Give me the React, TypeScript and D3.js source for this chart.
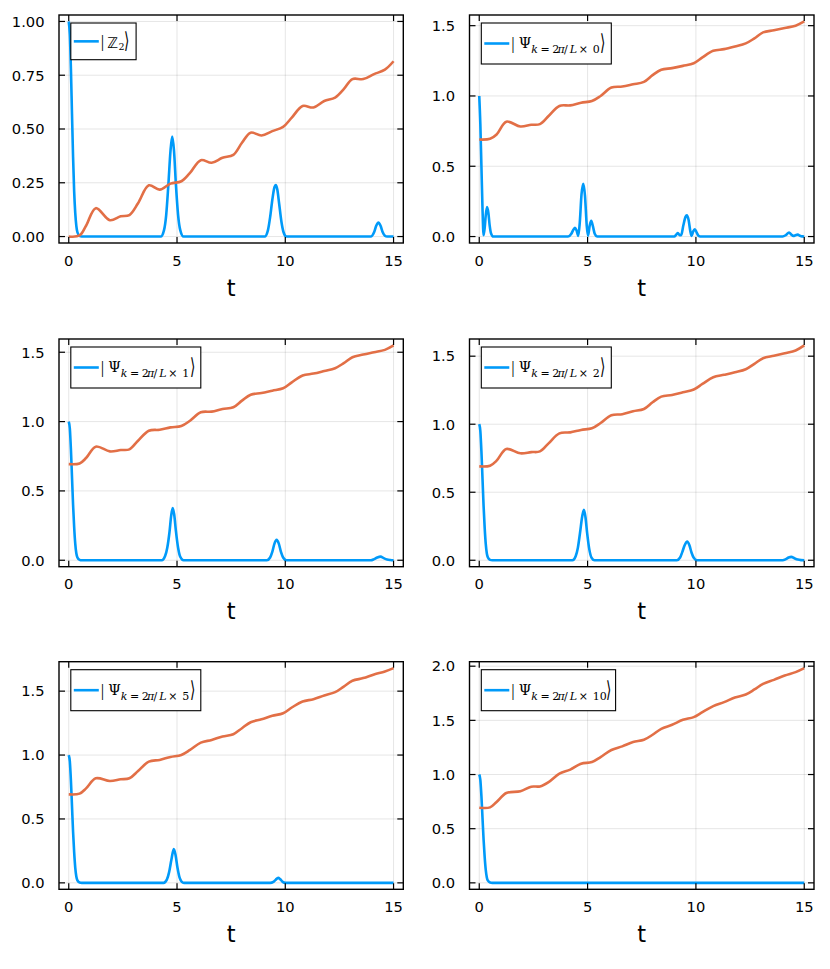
import { scaleLinear, line, curveMonotoneX, curveCatmullRom, format } from "d3";

// time grid for the entropy-like (orange) curves
const tGrid = [0, 0.5, 0.8, 1.25, 1.9, 2.4, 2.8, 3.2, 3.7, 4.2, 4.7, 5.2, 5.6, 6.1, 6.6, 7.1, 7.6, 8.0, 8.4, 8.9, 9.4, 9.9, 10.3, 10.8, 11.3, 11.8, 12.3, 12.7, 13.1, 13.6, 14.1, 14.6, 15];

const z2Orange = [0, 0.005, 0.05, 0.132, 0.076, 0.094, 0.1, 0.155, 0.238, 0.218, 0.246, 0.257, 0.296, 0.355, 0.343, 0.366, 0.38, 0.436, 0.483, 0.47, 0.49, 0.51, 0.553, 0.607, 0.6, 0.63, 0.646, 0.685, 0.732, 0.732, 0.755, 0.776, 0.815];
const k0Orange = [0.69, 0.695, 0.726, 0.817, 0.783, 0.795, 0.8, 0.857, 0.929, 0.933, 0.952, 0.964, 1.0, 1.06, 1.067, 1.083, 1.1, 1.148, 1.186, 1.198, 1.214, 1.233, 1.274, 1.321, 1.333, 1.352, 1.374, 1.41, 1.452, 1.467, 1.483, 1.5, 1.53];
const k1Orange = [0.693, 0.698, 0.737, 0.819, 0.785, 0.795, 0.8, 0.862, 0.934, 0.941, 0.958, 0.968, 1.006, 1.067, 1.072, 1.091, 1.103, 1.151, 1.194, 1.206, 1.223, 1.24, 1.283, 1.332, 1.346, 1.365, 1.385, 1.421, 1.464, 1.483, 1.5, 1.517, 1.549];
const k2Orange = [0.69, 0.695, 0.732, 0.818, 0.786, 0.795, 0.8, 0.859, 0.933, 0.94, 0.958, 0.97, 1.009, 1.066, 1.073, 1.095, 1.112, 1.161, 1.203, 1.215, 1.235, 1.255, 1.296, 1.345, 1.363, 1.382, 1.404, 1.444, 1.485, 1.503, 1.522, 1.542, 1.579];
const k5Orange = [0.692, 0.698, 0.739, 0.818, 0.797, 0.81, 0.818, 0.875, 0.949, 0.962, 0.985, 1.001, 1.04, 1.097, 1.118, 1.145, 1.163, 1.21, 1.257, 1.28, 1.307, 1.327, 1.372, 1.419, 1.437, 1.466, 1.492, 1.536, 1.581, 1.602, 1.631, 1.654, 1.68];
const k10Orange = [0.694, 0.697, 0.747, 0.829, 0.845, 0.888, 0.89, 0.93, 1.008, 1.045, 1.1, 1.115, 1.161, 1.226, 1.26, 1.3, 1.321, 1.367, 1.422, 1.459, 1.505, 1.53, 1.576, 1.631, 1.668, 1.711, 1.739, 1.785, 1.837, 1.874, 1.914, 1.945, 1.982];

// fidelity (blue) curves as [t, value]
const z2Blue: [number, number][] = [
    [0, 1], [0.05, 0.94], [0.1, 0.78], [0.15, 0.57], [0.2, 0.37], [0.25, 0.21], [0.3, 0.11], [0.35, 0.05], [0.4, 0.02], [0.5, 0.003], [0.6, 0],
    [4.25, 0], [4.4, 0.03], [4.5, 0.1], [4.6, 0.24], [4.7, 0.4], [4.78, 0.465], [4.86, 0.4], [4.95, 0.24], [5.05, 0.1], [5.15, 0.03], [5.3, 0],
    [9.05, 0], [9.2, 0.03], [9.3, 0.09], [9.4, 0.17], [9.5, 0.23], [9.56, 0.24], [9.63, 0.22], [9.72, 0.15], [9.82, 0.07], [9.92, 0.02], [10.05, 0],
    [13.95, 0], [14.1, 0.02], [14.2, 0.05], [14.3, 0.065], [14.4, 0.05], [14.5, 0.02], [14.6, 0.004], [14.7, 0], [15, 0],
];
const k0Blue: [number, number][] = [
    [0, 1], [0.05, 0.8], [0.1, 0.5], [0.15, 0.2], [0.2, 0.01], [0.25, 0.06], [0.3, 0.15], [0.36, 0.21], [0.42, 0.17], [0.48, 0.08], [0.55, 0.02], [0.65, 0],
    [4.1, 0], [4.25, 0.02], [4.35, 0.05], [4.42, 0.062], [4.5, 0.04], [4.57, 0.005], [4.64, 0.1], [4.72, 0.3], [4.8, 0.375], [4.88, 0.29], [4.96, 0.08], [5.02, 0.005], [5.1, 0.08], [5.17, 0.112], [5.25, 0.07], [5.33, 0.02], [5.45, 0],
    [9.0, 0], [9.1, 0.015], [9.17, 0.024], [9.25, 0.01], [9.32, 0.01], [9.42, 0.08], [9.52, 0.14], [9.58, 0.152], [9.66, 0.12], [9.74, 0.04], [9.8, 0.005], [9.87, 0.035], [9.95, 0.052], [10.03, 0.03], [10.12, 0.005], [10.2, 0],
    [14.0, 0], [14.15, 0.01], [14.3, 0.029], [14.4, 0.015], [14.5, 0.004], [14.6, 0.01], [14.7, 0.014], [14.8, 0.006], [14.9, 0.001], [15, 0],
];
const k1Blue: [number, number][] = [
    [0, 1], [0.05, 0.95], [0.1, 0.8], [0.15, 0.6], [0.2, 0.4], [0.25, 0.24], [0.3, 0.12], [0.35, 0.05], [0.4, 0.02], [0.5, 0.003], [0.6, 0],
    [4.3, 0], [4.45, 0.03], [4.55, 0.09], [4.65, 0.2], [4.73, 0.32], [4.8, 0.376], [4.87, 0.33], [4.95, 0.21], [5.05, 0.09], [5.15, 0.025], [5.3, 0],
    [9.15, 0], [9.3, 0.02], [9.4, 0.06], [9.5, 0.12], [9.6, 0.147], [9.7, 0.12], [9.8, 0.06], [9.9, 0.02], [10.05, 0],
    [13.95, 0], [14.1, 0.008], [14.25, 0.02], [14.4, 0.026], [14.55, 0.015], [14.7, 0.006], [14.85, 0.002], [15, 0],
];
const k2Blue: [number, number][] = [
    [0, 1], [0.05, 0.95], [0.1, 0.8], [0.15, 0.6], [0.2, 0.4], [0.25, 0.24], [0.3, 0.12], [0.35, 0.05], [0.4, 0.02], [0.5, 0.003], [0.6, 0],
    [4.3, 0], [4.45, 0.03], [4.55, 0.09], [4.65, 0.2], [4.75, 0.32], [4.83, 0.371], [4.9, 0.32], [4.98, 0.2], [5.08, 0.08], [5.18, 0.02], [5.32, 0],
    [9.12, 0], [9.27, 0.02], [9.37, 0.06], [9.48, 0.11], [9.6, 0.137], [9.7, 0.11], [9.8, 0.055], [9.9, 0.018], [10.05, 0],
    [14.0, 0], [14.15, 0.008], [14.28, 0.02], [14.4, 0.025], [14.55, 0.014], [14.7, 0.005], [14.85, 0.001], [15, 0],
];
const k5Blue: [number, number][] = [
    [0, 1], [0.05, 0.95], [0.1, 0.8], [0.15, 0.6], [0.2, 0.4], [0.25, 0.24], [0.3, 0.12], [0.35, 0.05], [0.4, 0.02], [0.5, 0.003], [0.6, 0],
    [4.38, 0], [4.53, 0.025], [4.63, 0.08], [4.74, 0.18], [4.85, 0.264], [4.93, 0.22], [5.02, 0.12], [5.12, 0.04], [5.22, 0.008], [5.32, 0],
    [9.3, 0], [9.45, 0.008], [9.56, 0.025], [9.67, 0.039], [9.77, 0.028], [9.88, 0.008], [10.0, 0],
    [15, 0],
];
const k10Blue: [number, number][] = [
    [0, 1], [0.05, 0.95], [0.1, 0.8], [0.15, 0.6], [0.2, 0.4], [0.25, 0.24], [0.3, 0.12], [0.35, 0.05], [0.4, 0.02], [0.5, 0.003], [0.6, 0],
    [15, 0],
];

const xTicks = [0, 5, 10, 15];
const yTicksQuarter = [0, 0.25, 0.5, 0.75, 1.0];
const yTicksHalf = [0, 0.5, 1.0, 1.5];
const yTicksHalfTo2 = [0, 0.5, 1.0, 1.5, 2.0];
const momenta = ["0", "1", "2", "5", "10"];

const BLUE = "#009AF9";
const ORANGE = "#E26F46";

const colX = [[59, 403.3], [469.5, 814]];
const rowY = [[15, 243], [339, 566.7], [661.7, 889.3]];

interface PanelSpec {
    orange: number[];
    blue: [number, number][];
    yTicks: number[];
    fmt: string;
    label: string | null; // null -> Z2 state
    legendW: number;
}

const panels: PanelSpec[] = [
    { orange: z2Orange, blue: z2Blue, yTicks: yTicksQuarter, fmt: ".2f", label: null, legendW: 65.3 },
    { orange: k0Orange, blue: k0Blue, yTicks: yTicksHalf, fmt: ".1f", label: momenta[0], legendW: 130 },
    { orange: k1Orange, blue: k1Blue, yTicks: yTicksHalf, fmt: ".1f", label: momenta[1], legendW: 130 },
    { orange: k2Orange, blue: k2Blue, yTicks: yTicksHalf, fmt: ".1f", label: momenta[2], legendW: 130 },
    { orange: k5Orange, blue: k5Blue, yTicks: yTicksHalf, fmt: ".1f", label: momenta[3], legendW: 130 },
    { orange: k10Orange, blue: k10Blue, yTicks: yTicksHalfTo2, fmt: ".1f", label: momenta[4], legendW: 134.3 },
];

const tickFont = "DejaVu Sans";
const mathFont = "DejaVu Serif";

// tall, narrow closing angle bracket
function Ket({ x, y }: { x: number; y: number }) {
    return (
        <text transform={`translate(${x},${y}) scale(0.62,1)`} fontFamily="DejaVu Sans" fontSize={22} fontWeight={300} fill="black">
            ⟩
        </text>
    );
}

function Bar({ x, y }: { x: number; y: number }) {
    return (
        <text x={x} y={y} fontFamily="Liberation Serif" fontSize={17} fill="black">
            |
        </text>
    );
}

function Z2Legend({ x0, cy }: { x0: number; cy: number }) {
    return (
        <g>
            <Bar x={x0} y={cy + 5.5} />
            <text fill="black">
                <tspan x={x0 + 6.4} y={cy + 6.6} fontFamily="DejaVu Sans" fontSize={14.5}>ℤ</tspan>
                <tspan x={x0 + 17.8} y={cy + 8.6} fontFamily={mathFont} fontSize={9.5}>2</tspan>
            </text>
            <Ket x={x0 + 23.6} y={cy + 6.3} />
        </g>
    );
}

function PsiLegend({ x0, cy, n }: { x0: number; cy: number; n: string }) {
    const base = cy + 4.3;
    const sub = cy + 9.6;
    const fs = 11;
    const extra = n.length > 1 ? 5.5 : 0;
    return (
        <g>
            <Bar x={x0} y={cy + 5.5} />
            <text fill="black" fontFamily={mathFont}>
                <tspan x={x0 + 7.4} y={base} fontSize={14.4}>Ψ</tspan>
                <tspan x={x0 + 20} y={sub} fontSize={fs} fontStyle="italic">k</tspan>
                <tspan x={x0 + 29.2} y={sub} fontSize={fs}>=</tspan>
                <tspan x={x0 + 41} y={sub} fontSize={fs}>2</tspan>
                <tspan x={x0 + 46.2} y={sub} fontSize={fs} fontStyle="italic">π</tspan>
                <tspan x={x0 + 52.8} y={sub} fontSize={fs}>/</tspan>
                <tspan x={x0 + 58.4} y={sub} fontSize={fs} fontStyle="italic">L</tspan>
                <tspan x={x0 + 67.4} y={sub} fontSize={fs}>×</tspan>
                <tspan x={x0 + 81.4} y={sub} fontSize={fs}>{n}</tspan>
            </text>
            <Ket x={x0 + 89 + extra} y={cy + 6.3} />
        </g>
    );
}

function Panel({ spec, col, row }: { spec: PanelSpec; col: number; row: number }) {
    const [left, right] = colX[col];
    const [top, bottom] = rowY[row];

    const allY = [...spec.orange, ...spec.blue.map((d) => d[1])];
    const yMin = Math.min(...allY);
    const yMax = Math.max(...allY);
    const pad = (yMax - yMin) * 0.03;

    const x = scaleLinear().domain([-0.45, 15.45]).range([left, right]);
    const y = scaleLinear().domain([yMin - pad, yMax + pad]).range([bottom, top]);

    const bluePath = line<[number, number]>()
        .x((d) => x(d[0]))
        .y((d) => y(d[1]))
        .curve(curveMonotoneX);
    const orangePath = line<[number, number]>()
        .x((d) => x(d[0]))
        .y((d) => y(d[1]))
        .curve(curveCatmullRom.alpha(0.5));

    const orangePts: [number, number][] = tGrid.map((t, i) => [t, spec.orange[i]]);
    const fmt = format(spec.fmt);
    const tick = 6;

    const lx = left + 11.8;
    const ly = top + 8;
    const lh = spec.label === null ? 36.7 : 41;
    const cy = ly + lh / 2;

    return (
        <g>
            <rect x={left} y={top} width={right - left} height={bottom - top} fill="white" />
            {xTicks.map((t) => (
                <line key={`gx${t}`} x1={x(t)} x2={x(t)} y1={top} y2={bottom} stroke="#000" strokeOpacity={0.1} strokeWidth={1} />
            ))}
            {spec.yTicks.map((v) => (
                <line key={`gy${v}`} x1={left} x2={right} y1={y(v)} y2={y(v)} stroke="#000" strokeOpacity={0.1} strokeWidth={1} />
            ))}
            <path d={bluePath(spec.blue) ?? ""} fill="none" stroke={BLUE} strokeWidth={2.6} strokeLinejoin="round" />
            <path d={orangePath(orangePts) ?? ""} fill="none" stroke={ORANGE} strokeWidth={2.6} strokeLinejoin="round" />
            <rect x={left} y={top} width={right - left} height={bottom - top} fill="none" stroke="black" strokeWidth={1.4} />
            {xTicks.map((t) => (
                <g key={`tx${t}`}>
                    <line x1={x(t)} x2={x(t)} y1={bottom} y2={bottom - tick} stroke="black" strokeWidth={1.2} />
                    <line x1={x(t)} x2={x(t)} y1={top} y2={top + tick} stroke="black" strokeWidth={1.2} />
                    <text x={x(t)} y={bottom + 22.7} textAnchor="middle" fontFamily={tickFont} fontSize={14.7}>
                        {t}
                    </text>
                </g>
            ))}
            {spec.yTicks.map((v) => (
                <g key={`ty${v}`}>
                    <line x1={left} x2={left + tick} y1={y(v)} y2={y(v)} stroke="black" strokeWidth={1.2} />
                    <line x1={right} x2={right - tick} y1={y(v)} y2={y(v)} stroke="black" strokeWidth={1.2} />
                    <text x={left - 14.5} y={y(v) + 5.3} textAnchor="end" fontFamily={tickFont} fontSize={14.7}>
                        {fmt(v)}
                    </text>
                </g>
            ))}
            <text x={(left + right) / 2} y={bottom + 52.5} textAnchor="middle" fontFamily={tickFont} fontSize={22.5}>
                t
            </text>
            <rect x={lx} y={ly} width={spec.legendW} height={lh} fill="white" stroke="black" strokeWidth={1.1} />
            <line x1={lx + 3} x2={lx + 28} y1={cy} y2={cy} stroke={BLUE} strokeWidth={2.6} />
            {spec.label === null ? (
                <Z2Legend x0={lx + 30} cy={cy} />
            ) : (
                <PsiLegend x0={lx + 30} cy={cy} n={spec.label} />
            )}
        </g>
    );
}

export default function App() {
    return (
        <svg width={830} height={969} style={{ position: "absolute", left: 0, top: 0, background: "white" }}>
            <rect width={830} height={969} fill="white" />
            {panels.map((p, i) => (
                <Panel key={i} spec={p} col={i % 2} row={Math.floor(i / 2)} />
            ))}
        </svg>
    );
}
